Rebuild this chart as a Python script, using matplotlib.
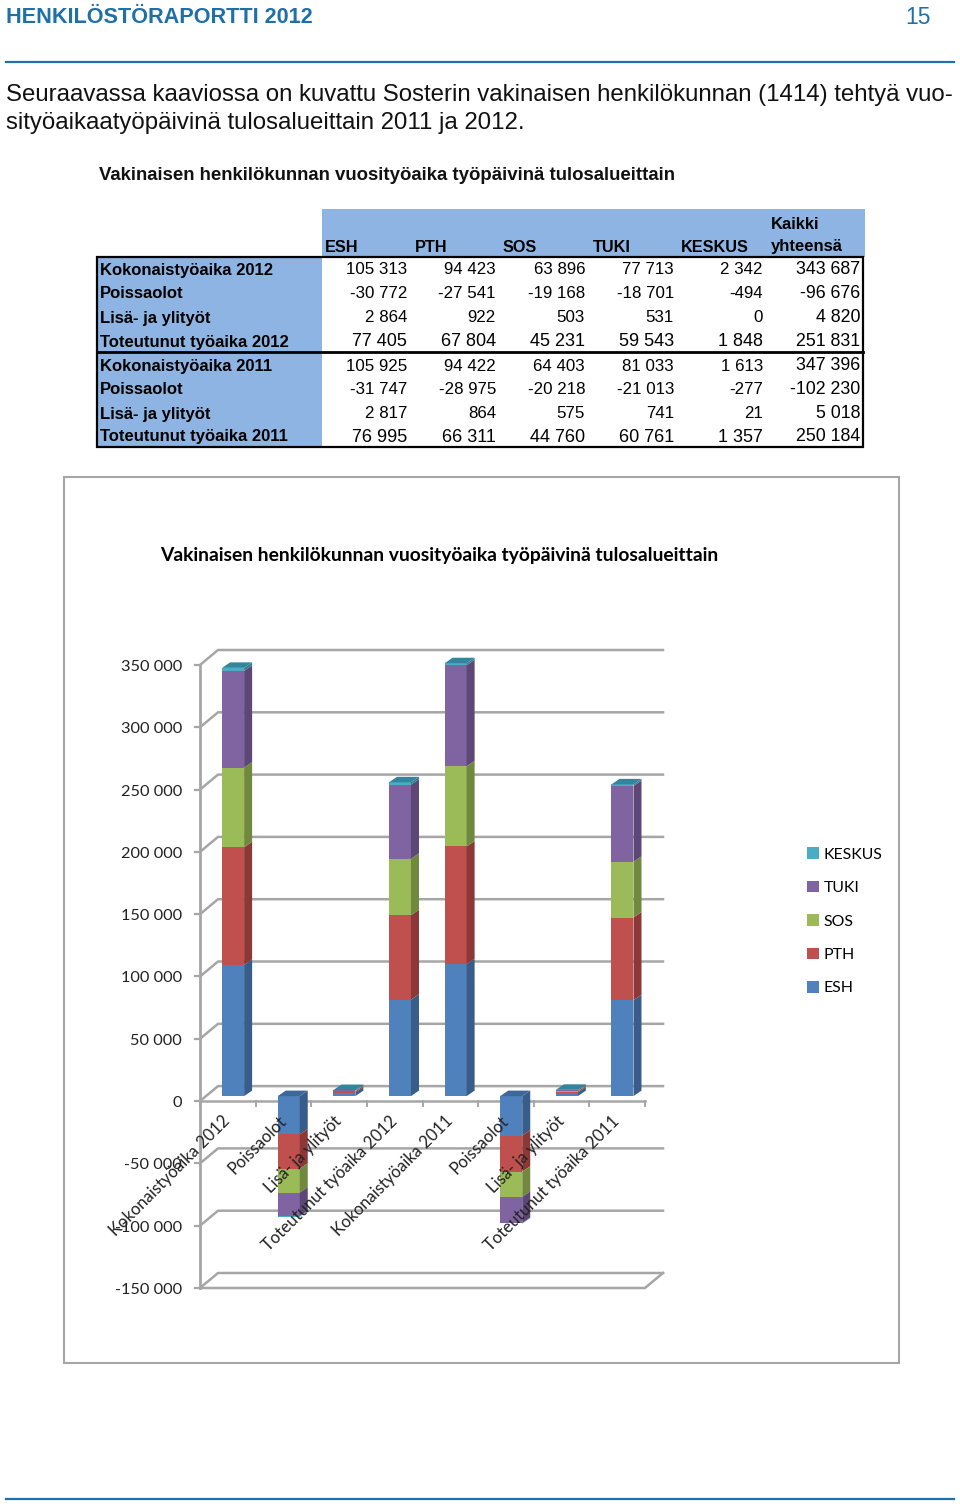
import matplotlib
matplotlib.use('Agg')
import matplotlib.pyplot as plt
from matplotlib.patches import Rectangle

W, H = 960, 1504

columns = ['ESH', 'PTH', 'SOS', 'TUKI', 'KESKUS']
rows = ['Kokonaistyöaika 2012', 'Poissaolot', 'Lisä- ja ylityöt', 'Toteutunut työaika 2012',
        'Kokonaistyöaika 2011', 'Poissaolot', 'Lisä- ja ylityöt', 'Toteutunut työaika 2011']
esh = [105313, -30772, 2864, 77405, 105925, -31747, 2817, 76995]
pth = [94423, -27541, 922, 67804, 94422, -28975, 864, 66311]
sos = [63896, -19168, 503, 45231, 64403, -20218, 575, 44760]
tuki = [77713, -18701, 531, 59543, 81033, -21013, 741, 60761]
keskus = [2342, -494, 0, 1848, 1613, -277, 21, 1357]
total = [343687, -96676, 4820, 251831, 347396, -102230, 5018, 250184]
yticks = [350000, 300000, 250000, 200000, 150000, 100000, 50000, 0, -50000, -100000, -150000]

front_colors = ['#4F81BD', '#C0504D', '#9BBB59', '#8064A2', '#4BACC6']
side_colors = ['#385D8A', '#8C3836', '#71893F', '#5C4776', '#357D91']
top_colors = ['#3F6797', '#A04340', '#82A04A', '#6A5387', '#31859C']

BLUE = '#1F6FA8'
TXT = ['Liberation Sans', 'DejaVu Sans']
CHART = ['Lato', 'DejaVu Sans']


def fmt(v):
    return f'{v:,}'.replace(',', ' ')


fig = plt.figure(figsize=(W / 100, H / 100), dpi=100)

# page coordinates in pixels
page = fig.add_axes([0, 0, 1, 1])
page.set_xlim(0, W)
page.set_ylim(H, 0)
page.axis('off')

page.text(6, 17.5, 'HENKILÖSTÖRAPORTTI 2012', color=BLUE, fontsize=15.6, fontweight='bold',
          family=TXT, va='center')
page.text(931, 17, '15', color=BLUE, fontsize=16.5, family=TXT, va='center', ha='right')
page.plot([6, 954], [61.5, 61.5], color=BLUE, lw=1.6)
page.plot([6, 954], [1498.5, 1498.5], color=BLUE, lw=1.6)
page.text(6, 95.5, 'Seuraavassa kaaviossa on kuvattu Sosterin vakinaisen henkilökunnan (1414) tehtyä vuo-',
          fontsize=17.3, family=TXT, va='center', color='#111111')
page.text(6, 122.5, 'sityöaikaatyöpäivinä tulosalueittain 2011 ja 2012.',
          fontsize=17.3, family=TXT, va='center', color='#111111')
page.text(99, 175.5, 'Vakinaisen henkilökunnan vuosityöaika työpäivinä tulosalueittain',
          fontsize=13.4, fontweight='bold', family=TXT, va='center', color='#111111')

# table
page.add_patch(Rectangle((322, 209), 543, 48, color='#8DB4E2', lw=0))
page.add_patch(Rectangle((97, 257), 225, 190, color='#8DB4E2', lw=0))
page.add_patch(Rectangle((97, 257), 766, 190, fill=False, ec='black', lw=1.6))
page.plot([97, 863], [352, 352], color='black', lw=2)

head_x = [325, 415, 503, 593, 681]
for x, c in zip(head_x, columns):
    page.text(x, 247, c, fontsize=11.7, fontweight='bold', family=TXT, va='center')
page.text(771, 224.5, 'Kaikki', fontsize=12, fontweight='bold', family=TXT, va='center')
page.text(771, 247, 'yhteensä', fontsize=12, fontweight='bold', family=TXT, va='center')

row_y = [270, 294, 318, 342, 366.5, 390, 414, 437]
col_x = [407, 496, 585, 674, 763]
for i, (y, r) in enumerate(zip(row_y, rows)):
    # the "Toteutunut" rows are set a little larger in the source table
    num_size = 13 if i in (3, 7) else 12.2
    page.text(99.5, y, r, fontsize=11.95, fontweight='bold', family=TXT, va='center')
    for x, col in zip(col_x, [esh, pth, sos, tuki, keskus]):
        page.text(x, y, fmt(col[i]), fontsize=num_size, family=TXT, va='center', ha='right')
    page.text(860, y - 0.5, fmt(total[i]), fontsize=12.8, family=TXT, va='center', ha='right')

# chart frame and title
page.add_patch(Rectangle((64, 477), 835, 886, fill=False, ec='#A6A6A6', lw=1.5))
page.text(439, 555.5, 'Vakinaisen henkilökunnan vuosityöaika työpäivinä tulosalueittain',
          fontsize=13.9, fontweight='bold', family=CHART, va='center', ha='center')

# chart axes, the front plane of the fake 3d box
L, R, T, B = 200, 645, 665, 1288
ax = fig.add_axes([L / W, 1 - B / H, (R - L) / W, (B - T) / H])
ax.set_xlim(0, 8)
ax.set_ylim(-150000, 350000)
ax.axis('off')
ax.patch.set_alpha(0)

px_x = 8 / (R - L)
px_y = 500000 / (B - T)
wall_dx, wall_dy = 18 * px_x, 15 * px_y
GRID = '#A6A6A6'

for v in yticks:
    ax.plot([0, wall_dx, 8 + wall_dx], [v, v + wall_dy, v + wall_dy], color=GRID, lw=1.8,
            clip_on=False, zorder=1, solid_joinstyle='round')
    ax.plot([-5 * px_x, 0], [v, v], color=GRID, lw=1.6, clip_on=False, zorder=1)
    ax.text(-18 * px_x, v - 2 * px_y, fmt(v), fontsize=11.8, family=CHART, ha='right', va='center',
            color='#222222', zorder=6)
ax.plot([0, 0], [-150000, 350000], color=GRID, lw=2, clip_on=False, zorder=1)
ax.plot([0, 8], [0, 0], color=GRID, lw=1.8, clip_on=False, zorder=1)
ax.plot([0, 8, 8 + wall_dx], [-150000, -150000, -150000 + wall_dy], color=GRID, lw=1.8,
        clip_on=False, zorder=1)
for i in range(9):
    ax.plot([i, i], [0, -5 * px_y], color=GRID, lw=1.4, clip_on=False, zorder=1)

# stacked bars with side and top faces
bar_w = 22 * px_x
shift_x, shift_y = 5.3 * px_x, 5 * px_y
dep_x, dep_y = 8 * px_x, 5.5 * px_y
series = [esh, pth, sos, tuki, keskus]

for i in range(8):
    x0 = i + 0.5 + shift_x - bar_w / 2
    x1 = x0 + bar_w
    cum = shift_y
    for s, col in enumerate(series):
        v = col[i]
        y0, y1 = cum, cum + v
        ax.bar(x0, v, bar_w, bottom=y0, align='edge', color=front_colors[s], lw=0, zorder=3,
               clip_on=False)
        ax.fill([x1, x1 + dep_x, x1 + dep_x, x1], [y0, y0 + dep_y, y1 + dep_y, y1],
                color=side_colors[s], lw=0, zorder=3, clip_on=False)
        cum = y1
    # top face sits on the first series for negative stacks, on the last for positive ones
    s_top = 0 if total[i] < 0 else 4
    y_top = shift_y if total[i] < 0 else cum
    ax.fill([x0, x1, x1 + dep_x, x0 + dep_x], [y_top, y_top, y_top + dep_y, y_top + dep_y],
            color=top_colors[s_top], lw=0, zorder=3, clip_on=False)

for i, r in enumerate(rows):
    ax.text(i + 0.5, -14000, r, rotation=45, rotation_mode='anchor', ha='right', va='center',
            fontsize=12, family=CHART, color='#222222', zorder=6)

# legend, top entry is the last series
handles = [Rectangle((0, 0), 1, 1, color=c, lw=0) for c in front_colors[::-1]]
page_legend = ax.legend(handles, columns[::-1], loc='upper left', bbox_to_anchor=(802, 842.5),
                        bbox_transform=page.transData, frameon=False, handlelength=0.75,
                        handleheight=0.75, handletextpad=0.3, labelspacing=1.21, borderpad=0.3,
                        borderaxespad=0, prop={'family': CHART, 'size': 11.4})

fig.savefig('out.png', dpi=100)
